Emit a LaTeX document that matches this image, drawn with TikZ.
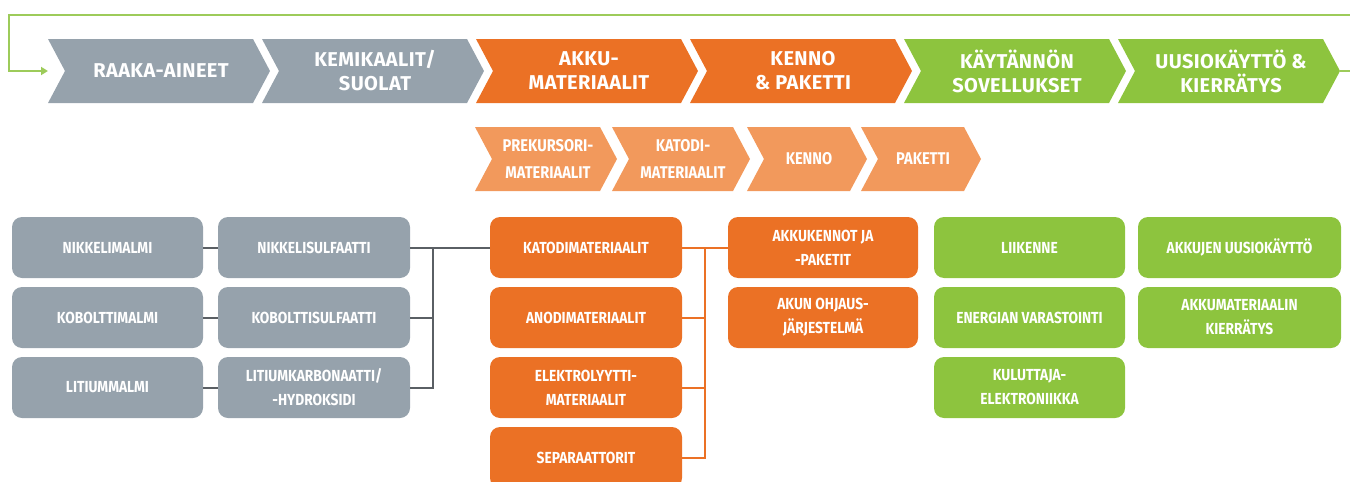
\documentclass[tikz,border=0pt]{standalone}
\usepackage{fontspec}
\setmainfont{Fira Sans}
\newfontfamily\topf{Fira Sans}[LetterSpace=2]
\newfontfamily\boxf{Fira Sans}[FakeStretch=0.86]
\usetikzlibrary{arrows.meta,calc}
\definecolor{cgray}{RGB}{150,162,172}
\definecolor{corange}{RGB}{235,113,37}
\definecolor{clorange}{RGB}{242,153,92}
\definecolor{cgreen}{RGB}{141,196,62}
\definecolor{cline}{RGB}{157,203,90}
\definecolor{cconn}{RGB}{90,95,100}
\tikzset{
  chevtop/.style={text=white, align=center, inner sep=0, font={\topf\bfseries\fontsize{20}{24}\selectfont}},
  chevsub/.style={text=white, align=center, inner sep=0, font={\boxf\bfseries\fontsize{17}{27}\selectfont}},
  box/.style={rounded corners=10pt, minimum height=61pt, inner sep=0, align=center, text=white,
     font={\boxf\bfseries\fontsize{16}{24}\selectfont}},
  graybox/.style={box, fill=cgray},
  orangebox/.style={box, fill=corange},
  greenbox/.style={box, fill=cgreen},
  grayconn/.style={draw=cconn, line width=2pt},
  orangeconn/.style={draw=corange, line width=2pt},
  loopline/.style={draw=cline, line width=2.5pt},
}
% name, x0, ytop, w, h, d, color, style, text
\newcommand\chev[9]{%
  \fill[#7] (#2,#3) -- ({#2+#4},#3) -- ({#2+#4+#6},{#3+#5/2}) -- ({#2+#4},{#3+#5})
     -- (#2,{#3+#5}) -- ({#2+#6},{#3+#5/2}) -- cycle;
  \node[#8] (#1) at ({#2+(#4+#6)/2+2},{#3+#5/2}) {#9};
  \coordinate (#1-tip) at ({#2+#4+#6},{#3+#5/2});
  \coordinate (#1-tail) at (#2,{#3+#5/2});
}
\begin{document}
\begin{tikzpicture}[x=1pt,y=-1pt]
\useasboundingbox (0,0) rectangle (1350,482);
% top row
\chev{c1}{48}{39}{205}{64}{17}{cgray}{chevtop}{RAAKA-AINEET}
\chev{c2}{262}{39}{205}{64}{17}{cgray}{chevtop}{KEMIKAALIT/\\SUOLAT}
\chev{c3}{476}{39}{205}{64}{17}{corange}{chevtop}{AKKU-\\MATERIAALIT}
\chev{c4}{690}{39}{205}{64}{17}{corange}{chevtop}{KENNO\\\&~PAKETTI}
\chev{c5}{904}{39}{205}{64}{17}{cgreen}{chevtop}{KÄYTÄNNÖN\\SOVELLUKSET}
\chev{c6}{1118}{39}{205}{64}{17}{cgreen}{chevtop}{UUSIOKÄYTTÖ \&\\KIERRÄTYS}
% loop line
\coordinate (lr) at (1356,71);
\coordinate (tr) at (1356,15);
\coordinate (tl) at (9,15);
\coordinate (bl) at (9,71);
\draw[loopline] (c6-tip) -- (lr) -- (tr) -- (tl) -- (bl) -- ($(c1-tail)+(-8,0)$);
\draw[draw=cline, line width=2.5pt, -{Triangle[length=7pt,width=8pt]}] ($(c1-tail)+(-9,0)$) -- (c1-tail);
% second row
\chev{d1}{475}{127}{125}{64}{17}{clorange}{chevsub}{PREKURSORI-\\MATERIAALIT}
\chev{d2}{612}{127}{121}{64}{17}{clorange}{chevsub}{KATODI-\\MATERIAALIT}
\chev{d3}{747}{127}{103}{64}{17}{clorange}{chevsub}{KENNO}
\chev{d4}{861}{127}{103}{64}{17}{clorange}{chevsub}{PAKETTI}
% gray boxes
\node[graybox, minimum width=191pt] (n1) at (107.5,247.5) {NIKKELIMALMI};
\node[graybox, minimum width=191pt] (n2) at (107.5,317.5) {KOBOLTTIMALMI};
\node[graybox, minimum width=191pt] (n3) at (107.5,387.5) {LITIUMMALMI};
\node[graybox, minimum width=192pt] (s1) at (314,247.5) {NIKKELISULFAATTI};
\node[graybox, minimum width=192pt] (s2) at (314,317.5) {KOBOLTTISULFAATTI};
\node[graybox, minimum width=192pt] (s3) at (314,387.5) {LITIUMKARBONAATTI/\\-HYDROKSIDI};
% orange boxes
\node[orangebox, minimum width=192pt] (k1) at (586,247.5) {KATODIMATERIAALIT};
\node[orangebox, minimum width=192pt] (k2) at (586,317.5) {ANODIMATERIAALIT};
\node[orangebox, minimum width=192pt] (k3) at (586,387.5) {ELEKTROLYYTTI-\\MATERIAALIT};
\node[orangebox, minimum width=192pt] (k4) at (586,457.5) {SEPARAATTORIT};
\node[orangebox, minimum width=190pt] (p1) at (823,247.5) {AKKUKENNOT JA\\-PAKETIT};
\node[orangebox, minimum width=190pt] (p2) at (823,317.5) {AKUN OHJAUS-\\JÄRJESTELMÄ};
% green boxes
\node[greenbox, minimum width=191pt] (g1) at (1029.5,247.5) {LIIKENNE};
\node[greenbox, minimum width=191pt] (g2) at (1029.5,317.5) {ENERGIAN VARASTOINTI};
\node[greenbox, minimum width=191pt] (g3) at (1029.5,387.5) {KULUTTAJA-\\ELEKTRONIIKKA};
\node[greenbox, minimum width=203pt] (r1) at (1239.5,247.5) {AKKUJEN UUSIOKÄYTTÖ};
\node[greenbox, minimum width=203pt] (r2) at (1239.5,317.5) {AKKUMATERIAALIN\\KIERRÄTYS};
% gray connectors
\draw[grayconn] (n1) -- (s1);
\draw[grayconn] (n2) -- (s2);
\draw[grayconn] (n3) -- (s3);
\coordinate (jg) at ($(s1.east)+(23,0)$);
\draw[grayconn] (s1.east) -- (k1.west);
\draw[grayconn] (s2.east) -| (jg);
\draw[grayconn] (s3.east) -| (jg);
% orange connectors
\coordinate (jo) at ($(k1.east)+(23,0)$);
\draw[orangeconn] (k1.east) -- (p1.west);
\draw[orangeconn] (k2.east) -| (jo);
\draw[orangeconn] (k3.east) -| (jo);
\draw[orangeconn] (k4.east) -| (jo);
\end{tikzpicture}
\end{document}
